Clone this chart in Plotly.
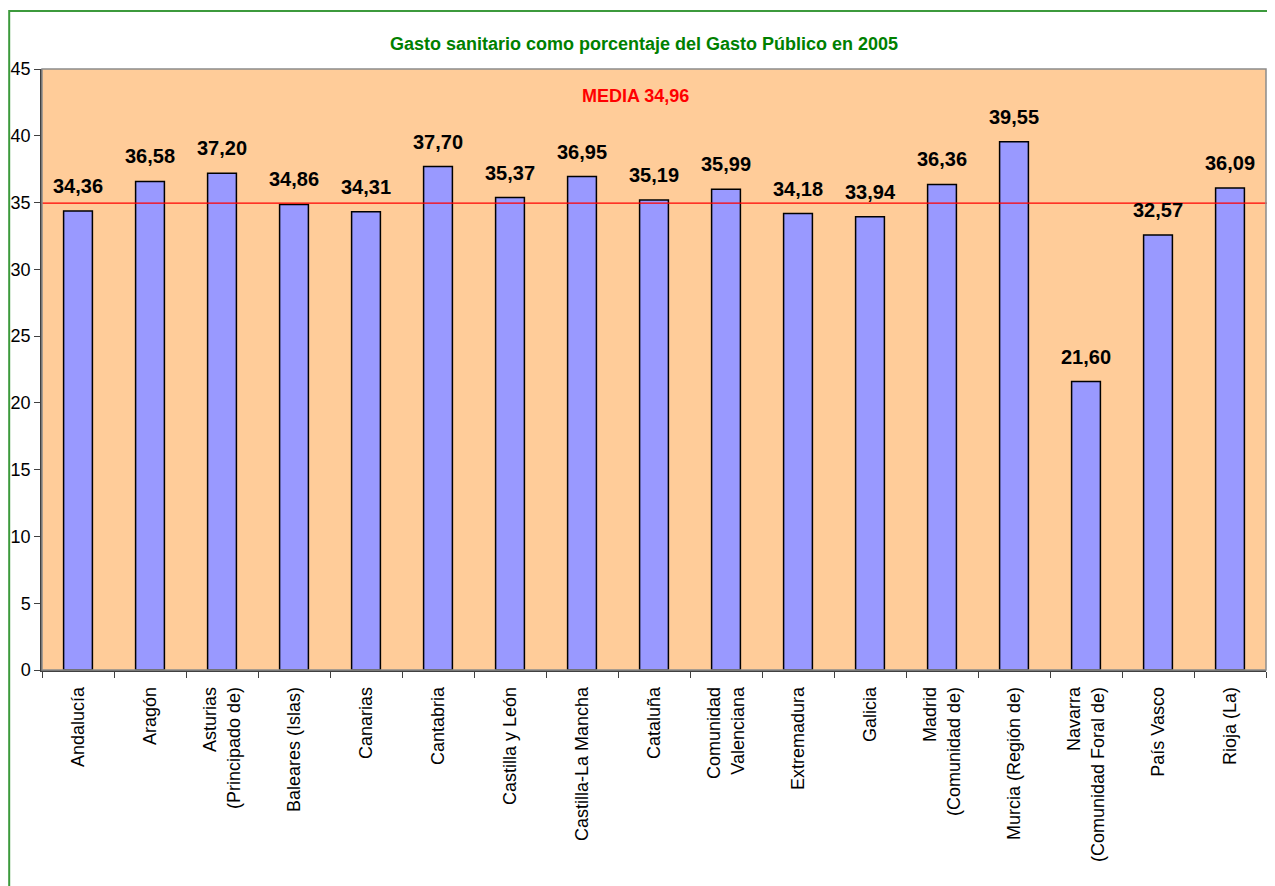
import plotly.graph_objects as go

categories = ["Andalucía", "Aragón", "Asturias<br>(Principado de)", "Baleares (Islas)", "Canarias",
              "Cantabria", "Castilla y León", "Castilla-La Mancha", "Cataluña", "Comunidad<br>Valenciana",
              "Extremadura", "Galicia", "Madrid<br>(Comunidad de)", "Murcia (Región de)",
              "Navarra<br>(Comunidad Foral de)", "País Vasco", "Rioja (La)"]
values = [34.36, 36.58, 37.20, 34.86, 34.31, 37.70, 35.37, 36.95, 35.19, 35.99,
          34.18, 33.94, 36.36, 39.55, 21.60, 32.57, 36.09]
media = 34.96
title = "Gasto sanitario como porcentaje del Gasto Público en 2005"
y_ticks = [0, 5, 10, 15, 20, 25, 30, 35, 40, 45]

FONT = "Liberation Sans, Arial"

fig = go.Figure()
fig.add_trace(go.Bar(
    x=categories, y=values,
    marker=dict(color="#9999FF", line=dict(color="black", width=1.5)),
    width=0.4,
    hoverinfo="x+y",
))

annotations = []
for c, v in zip(categories, values):
    annotations.append(dict(
        x=c, y=v, xref="x", yref="y", text=f"{v:.2f}".replace(".", ","),
        showarrow=False, yanchor="bottom", yshift=12,
        font=dict(family=FONT, size=20, color="black", weight="bold"),
    ))
annotations.append(dict(
    x=0.485, y=43.0, xref="paper", yref="y", text=f"MEDIA {media:.2f}".replace(".", ","),
    showarrow=False, font=dict(family=FONT, size=18, color="#FF0000", weight="bold"),
))

shapes = [
    dict(type="line", xref="paper", yref="y", x0=0, x1=1.003, y0=media, y1=media,
         line=dict(color="#FF0000", width=1.2)),
    dict(type="rect", xref="paper", yref="paper", x0=0, x1=1, y0=0, y1=1,
         line=dict(color="#8C8C8C", width=1.5), layer="above"),
    dict(type="rect", xref="paper", yref="paper", x0=-0.0268, x1=1.05, y0=-0.4, y1=1.0965,
         line=dict(color="#3C9A3C", width=2)),
]

fig.update_layout(
    width=1267, height=878,
    margin=dict(l=34, r=9, t=61, b=216, autoexpand=False),
    paper_bgcolor="white", plot_bgcolor="#FFCC99",
    showlegend=False,
    title=dict(text=title, xref="container", x=0.502, xanchor="center",
               yref="container", y=0.959, yanchor="middle",
               font=dict(family=FONT, size=18, color="#008000", weight="bold")),
    xaxis=dict(
        tickangle=-90, tickfont=dict(family=FONT, size=18, color="black"),
        ticks="outside", ticklen=6, tickcolor="#404040", tickson="boundaries",
        ticklabelstandoff=8, automargin=False,
        showline=True, linecolor="#404040", linewidth=1.5, showgrid=False,
        range=[-0.5, 16.5],
    ),
    yaxis=dict(
        range=[0, 45], tickvals=y_ticks, ticks="outside", ticklen=6, tickcolor="#404040",
        tickfont=dict(family=FONT, size=18, color="black"), automargin=False,
        showline=True, linecolor="#404040", linewidth=1.5, showgrid=False, zeroline=False,
    ),
    annotations=annotations, shapes=shapes,
    bargap=0.6,
)

fig.write_html("out.html")
